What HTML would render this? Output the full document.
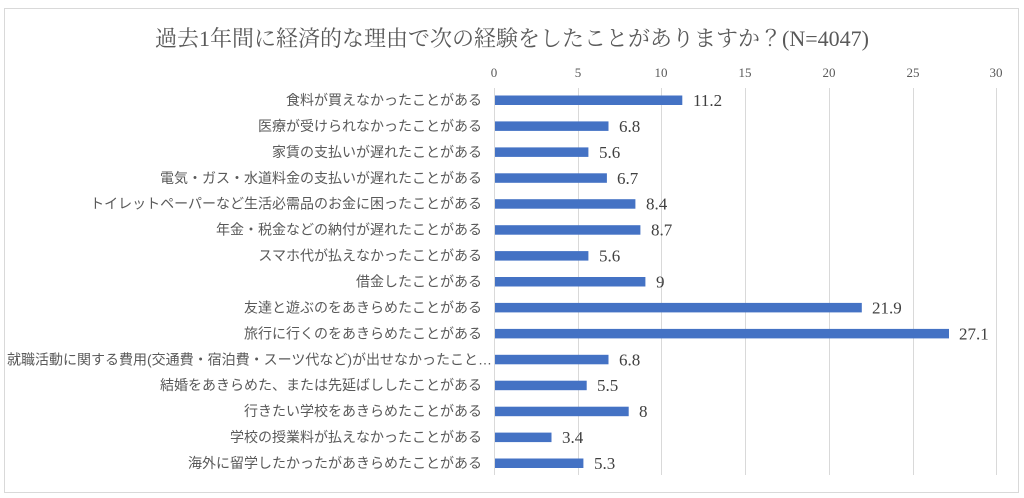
<!DOCTYPE html>
<html><head><meta charset="utf-8"><style>
body{margin:0;background:#fff;}
svg{display:block;}
</style></head><body>
<svg width="1024" height="498" xmlns="http://www.w3.org/2000/svg">
<rect x="0" y="0" width="1024" height="498" fill="#fff"/>
<rect x="4.5" y="8.5" width="1014" height="484" fill="#fff" stroke="#d9d9d9" stroke-width="1"/>
<text x="512" y="46" text-anchor="middle" font-family="'Liberation Serif','Noto Serif CJK JP',serif" font-size="22" fill="#595959">過去1年間に経済的な理由で次の経験をしたことがありますか？(N=4047)</text>
<g stroke="#d9d9d9" stroke-width="1">
<line x1="578.5" y1="88" x2="578.5" y2="475"/><line x1="661.5" y1="88" x2="661.5" y2="475"/><line x1="745.5" y1="88" x2="745.5" y2="475"/><line x1="829.5" y1="88" x2="829.5" y2="475"/><line x1="913.5" y1="88" x2="913.5" y2="475"/><line x1="996.5" y1="88" x2="996.5" y2="475"/>
<line x1="494.5" y1="88" x2="494.5" y2="475"/>
</g>
<g font-family="'Liberation Serif',serif" font-size="13" fill="#595959" text-anchor="middle">
<text x="494" y="77">0</text><text x="578" y="77">5</text><text x="661" y="77">10</text><text x="745" y="77">15</text><text x="829" y="77">20</text><text x="913" y="77">25</text><text x="996" y="77">30</text>
</g>
<g font-family="'Liberation Sans','Noto Sans CJK JP',sans-serif" font-size="14" fill="#595959" text-anchor="end">
<text x="482" y="105">食料が買えなかったことがある</text>
<text x="482" y="130.9">医療が受けられなかったことがある</text>
<text x="482" y="156.9">家賃の支払いが遅れたことがある</text>
<text x="482" y="182.8">電気・ガス・水道料金の支払いが遅れたことがある</text>
<text x="482" y="208.7">トイレットペーパーなど生活必需品のお金に困ったことがある</text>
<text x="482" y="234.7">年金・税金などの納付が遅れたことがある</text>
<text x="482" y="260.6">スマホ代が払えなかったことがある</text>
<text x="482" y="286.5">借金したことがある</text>
<text x="482" y="312.4">友達と遊ぶのをあきらめたことがある</text>
<text x="482" y="338.4">旅行に行くのをあきらめたことがある</text>
<text x="492" y="364.3">就職活動に関する費用(交通費・宿泊費・スーツ代など)が出せなかったこと…</text>
<text x="482" y="390.2">結婚をあきらめた、または先延ばししたことがある</text>
<text x="482" y="416.2">行きたい学校をあきらめたことがある</text>
<text x="482" y="442.1">学校の授業料が払えなかったことがある</text>
<text x="482" y="468">海外に留学したかったがあきらめたことがある</text>
</g>
<g fill="#4472c4">
<rect x="495" y="95.5" width="187.3" height="9.5"/>
<rect x="495" y="121.4" width="113.5" height="9.5"/>
<rect x="495" y="147.4" width="93.4" height="9.5"/>
<rect x="495" y="173.3" width="111.9" height="9.5"/>
<rect x="495" y="199.2" width="140.4" height="9.5"/>
<rect x="495" y="225.2" width="145.4" height="9.5"/>
<rect x="495" y="251.1" width="93.4" height="9.5"/>
<rect x="495" y="277" width="150.4" height="9.5"/>
<rect x="495" y="302.9" width="366.8" height="9.5"/>
<rect x="495" y="328.9" width="454" height="9.5"/>
<rect x="495" y="354.8" width="113.5" height="9.5"/>
<rect x="495" y="380.7" width="91.7" height="9.5"/>
<rect x="495" y="406.7" width="133.7" height="9.5"/>
<rect x="495" y="432.6" width="56.5" height="9.5"/>
<rect x="495" y="458.5" width="88.4" height="9.5"/>
</g>
<g font-family="'Liberation Serif',serif" font-size="17" fill="#404040">
<text x="693" y="106">11.2</text>
<text x="619" y="131.9">6.8</text>
<text x="599" y="157.9">5.6</text>
<text x="617" y="183.8">6.7</text>
<text x="646" y="209.7">8.4</text>
<text x="651" y="235.7">8.7</text>
<text x="599" y="261.6">5.6</text>
<text x="656" y="287.5">9</text>
<text x="872" y="313.4">21.9</text>
<text x="959" y="339.4">27.1</text>
<text x="619" y="365.3">6.8</text>
<text x="597" y="391.2">5.5</text>
<text x="639" y="417.2">8</text>
<text x="562" y="443.1">3.4</text>
<text x="594" y="469">5.3</text>
</g>
</svg>
</body></html>
